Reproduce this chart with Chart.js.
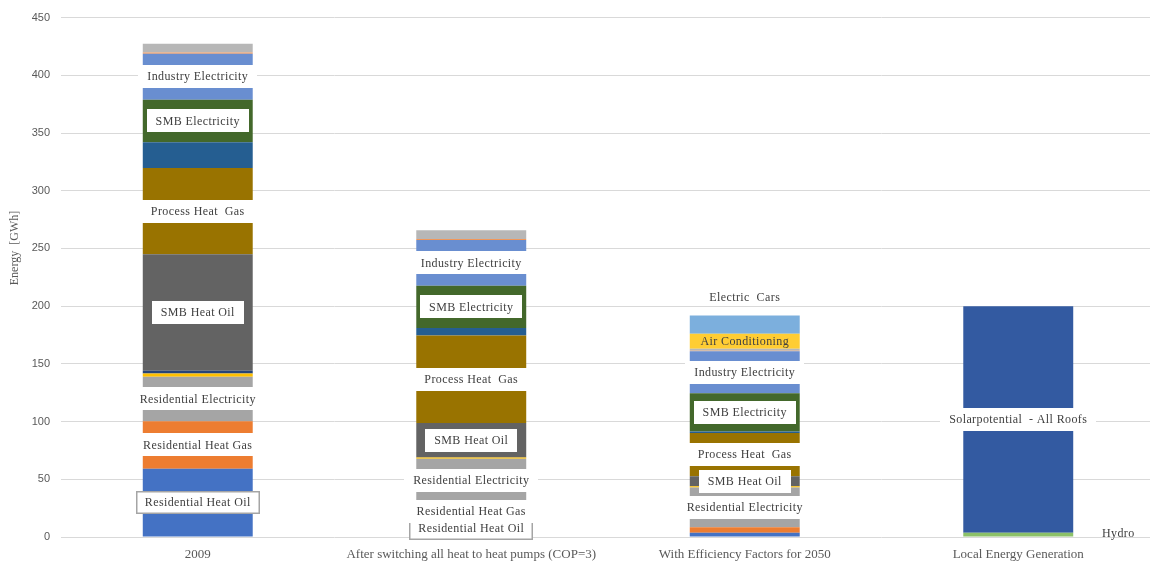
<!DOCTYPE html>
<html>
<head>
<meta charset="utf-8">
<title>Energy demand and local generation</title>
<script src="https://cdn.jsdelivr.net/npm/chart.js@4.4.1/dist/chart.umd.min.js"></script>
<style>
  html, body { margin: 0; padding: 0; background: #fff; overflow: hidden; }
  #wrap { width: 1155px; height: 561px; }
</style>
</head>
<body>
<div id="wrap"><canvas id="energyChart"></canvas></div>
<script>
// Categories along the x axis
const categories = [
  '2009',
  'After switching all heat to heat pumps (COP=3)',
  'With Efficiency Factors for 2050',
  'Local Energy Generation'
];

// Energy per series in GWh, one value per category (bottom of the stack first)
const residentialHeatOil     = [59.2, 14.0, 3.7, null];
const residentialHeatGas     = [41.1, 16.0, 4.7, null];
const residentialElectricity = [38.6, 37.7, 34.5, null];
const series4                = [2.8, 1.2, 1.1, null];
const series7                = [2.3, null, null, null];
const smbHeatOil             = [101.0, 29.9, 8.6, null];
const processHeatGas         = [74.8, 75.7, 37.4, null];
const series11               = [22.2, 6.6, 1.5, null];
const smbElectricity         = [36.9, 36.5, 33.1, null];
const industryElectricity    = [39.7, 39.7, 36.3, null];
const series14               = [1.2, 0.8, 0.5, null];
const series15               = [7.5, 7.6, 1.6, null];
const airConditioning        = [null, null, 13.0, null];
const electricCars           = [null, null, 15.8, null];
const hydro                  = [null, null, null, 3.7];
const solarAllRoofs          = [null, null, null, 196.3];

// y axis ticks
const yTicks = [0, 50, 100, 150, 200, 250, 300, 350, 400, 450];

const series = [
  { label: 'Residential Heat Oil',       data: residentialHeatOil,     color: '#4472C4' },
  { label: 'Residential Heat Gas',       data: residentialHeatGas,     color: '#ED7D31' },
  { label: 'Residential Electricity',    data: residentialElectricity, color: '#A5A5A5' },
  { label: 'Series 4',                   data: series4,                color: '#FFC000' },
  { label: 'Series 7',                   data: series7,                color: '#264478' },
  { label: 'SMB Heat Oil',               data: smbHeatOil,             color: '#636363' },
  { label: 'Process Heat  Gas',          data: processHeatGas,         color: '#997300' },
  { label: 'Series 11',                  data: series11,               color: '#255E91' },
  { label: 'SMB Electricity',            data: smbElectricity,         color: '#43682B' },
  { label: 'Industry Electricity',       data: industryElectricity,    color: '#698ED0' },
  { label: 'Series 14',                  data: series14,               color: '#F1975A' },
  { label: 'Series 15',                  data: series15,               color: '#B7B7B7' },
  { label: 'Air Conditioning',           data: airConditioning,        color: '#FFCD33' },
  { label: 'Electric  Cars',             data: electricCars,           color: '#7CAFDD' },
  { label: 'Hydro',                      data: hydro,                  color: '#8CC168' },
  { label: 'Solarpotential  - All Roofs', data: solarAllRoofs,         color: '#335AA1' }
];

// Data label look per series and category: 'box' = white fill, 'frame' = white fill
// with grey outline, 'plain' = text only. dx/dy nudge a label off the segment centre.
const labelStyles = {
  'Residential Heat Oil':       ['frame', 'frame', null, null],
  'Residential Heat Gas':       ['box', 'box', null, null],
  'Residential Electricity':    ['box', 'box', 'box', null],
  'SMB Heat Oil':               ['box', 'box', 'box', null],
  'Process Heat  Gas':          ['box', 'box', 'box', null],
  'SMB Electricity':            ['box', 'box', 'box', null],
  'Industry Electricity':       ['box', 'box', 'box', null],
  'Air Conditioning':           [null, null, 'plain', null],
  'Electric  Cars':             [null, null, { mode: 'plain', dy: -27 }, null],
  'Hydro':                      [null, null, null, { mode: 'plain', dx: 100, dy: -1 }],
  'Solarpotential  - All Roofs': [null, null, null, 'box']
};

const LABEL_FONT = '12px "Liberation Serif"';

const segmentLabels = {
  id: 'segmentLabels',
  afterDatasetsDraw(chart) {
    const ctx = chart.ctx;
    ctx.save();
    ctx.font = LABEL_FONT;
    ctx.letterSpacing = '0.4px';
    ctx.textAlign = 'center';
    ctx.textBaseline = 'middle';
    chart.data.datasets.forEach((ds, di) => {
      const styles = labelStyles[ds.label];
      if (!styles) return;
      const meta = chart.getDatasetMeta(di);
      styles.forEach((st, i) => {
        if (!st) return;
        const opt = typeof st === 'string' ? { mode: st } : st;
        const bar = meta.data[i];
        const x = bar.x + (opt.dx || 0);
        const y = (bar.y + bar.base) / 2 + (opt.dy || 0);
        const w = ctx.measureText(ds.label).width + 18;
        const h = 23;
        if (opt.mode === 'box' || opt.mode === 'frame') {
          ctx.fillStyle = '#ffffff';
          ctx.fillRect(Math.round(x - w / 2), Math.round(y - h / 2), Math.round(w), h);
        }
        if (opt.mode === 'frame') {
          ctx.strokeStyle = '#A5A5A5';
          ctx.lineWidth = 1.5;
          ctx.strokeRect(Math.round(x - w / 2) + 0.75, Math.round(y - h / 2) + 0.75, Math.round(w) - 1.5, h - 1.5);
        }
        ctx.fillStyle = '#404040';
        ctx.fillText(ds.label, x, y + 0.5);
      });
    });
    ctx.restore();
  }
};

// Rotated y axis title, sitting a little above the axis middle
const yTitle = {
  id: 'yTitle',
  afterDraw(chart) {
    const ctx = chart.ctx;
    ctx.save();
    ctx.translate(15, 248);
    ctx.rotate(-Math.PI / 2);
    ctx.font = '12px "Liberation Serif"';
    ctx.fillStyle = '#595959';
    ctx.textAlign = 'center';
    ctx.textBaseline = 'middle';
    ctx.fillText('Energy  [GWh]', 0, 0);
    ctx.restore();
  }
};

new Chart(document.getElementById('energyChart'), {
  type: 'bar',
  data: {
    labels: categories,
    datasets: series.map(s => ({
      label: s.label,
      data: s.data,
      backgroundColor: s.color,
      borderWidth: 0,
      categoryPercentage: 1,
      barPercentage: 0.402
    }))
  },
  options: {
    responsive: true,
    maintainAspectRatio: false,
    animation: false,
    layout: { padding: { top: 16, left: 0, right: 0, bottom: 0 } },
    plugins: {
      legend: { display: false },
      tooltip: { enabled: false }
    },
    scales: {
      x: {
        stacked: true,
        grid: { display: false },
        border: { display: false },
        ticks: {
          color: '#595959',
          font: { family: 'Liberation Serif', size: 13 },
          maxRotation: 0,
          autoSkip: false,
          padding: 2
        },
        afterFit: s => { s.height = 24; }
      },
      y: {
        stacked: true,
        min: 0,
        max: 450,
        afterBuildTicks: s => { s.ticks = yTicks.map(v => ({ value: v })); },
        grid: { color: '#D9D9D9', lineWidth: 1, drawTicks: false },
        border: { display: false },
        ticks: {
          color: '#595959',
          font: { family: 'Liberation Sans', size: 11 },
          padding: 11
        },
        afterFit: s => { s.width = 61; }
      }
    }
  },
  plugins: [segmentLabels, yTitle]
});
</script>
</body>
</html>
